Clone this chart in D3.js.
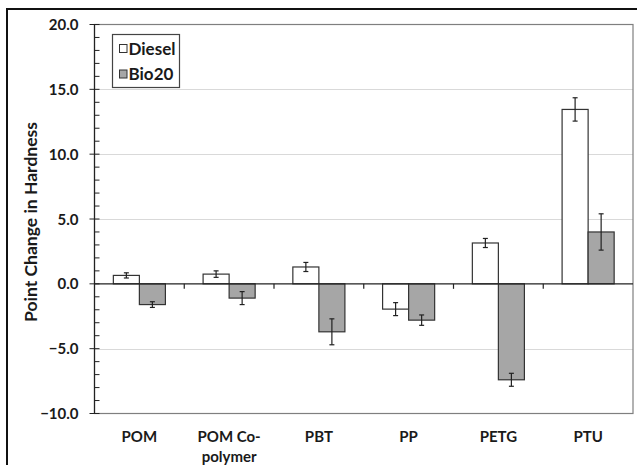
<!DOCTYPE html>
<meta charset="utf-8">
<style>
body { margin:0; background:#fff; }
text { font-family: Lato, "DejaVu Sans", sans-serif; font-weight:bold; fill:#1a1a1a; }
.tick-label { font-size:15px; }
.cat-label { font-size:15px; }
.grid line { stroke:#d9d9d9; stroke-width:1px; }
</style>
<body>
<script src="https://d3js.org/d3.v7.min.js"></script>
<script>

var categories = ["POM", "POM Co-polymer", "PBT", "PP", "PETG", "PTU"];
var catLines = [["POM"], ["POM Co-", "polymer"], ["PBT"], ["PP"], ["PETG"], ["PTU"]];
var series = ["Diesel", "Bio20"];
var diesel = [0.65, 0.75, 1.3, -1.95, 3.15, 13.45];
var dieselErr = [0.2, 0.25, 0.35, 0.5, 0.35, 0.9];
var bio20 = [-1.6, -1.1, -3.7, -2.8, -7.4, 4.0];
var bio20Err = [0.22, 0.5, 1.0, 0.4, 0.5, 1.4];
var yTicks = [-10, -5, 0, 5, 10, 15, 20];
var fills = {Diesel:"#ffffff", Bio20:"#a6a6a6"};

var W = 637, H = 465;
var plotL = 94.5, plotR = 633, plotT = 24.5, plotB = 413.5;

var svg = d3.select("body").append("svg").attr("width", W).attr("height", H);

// outer figure frame
svg.append("rect").attr("x", 7).attr("y", 9).attr("width", 640).attr("height", 470)
  .attr("fill", "none").attr("stroke", "#111").attr("stroke-width", 2);

var y = d3.scaleLinear().domain([-10, 20]).range([plotB, plotT]);
var x0 = d3.scaleBand().domain(categories).range([plotL, plotR]).paddingInner(0.42).paddingOuter(0.21);
var x1 = d3.scaleBand().domain(series).range([0, x0.bandwidth()]);

// gridlines
svg.append("g").attr("class", "grid")
  .selectAll("line").data(yTicks.filter(d => d != 0 && d != -10 && d != 20)).join("line")
  .attr("x1", plotL).attr("x2", plotR)
  .attr("y1", d => Math.round(y(d)) + 0.5).attr("y2", d => Math.round(y(d)) + 0.5);

// plot area border
svg.append("rect").attr("x", plotL).attr("y", plotT).attr("width", plotR - plotL).attr("height", plotB - plotT)
  .attr("fill", "none").attr("stroke", "#7f7f7f").attr("stroke-width", 1.2);

var rows = [];
categories.forEach(function(c, i){
  rows.push({cat:c, s:"Diesel", v:diesel[i], e:dieselErr[i]});
  rows.push({cat:c, s:"Bio20", v:bio20[i], e:bio20Err[i]});
});

svg.append("g").selectAll("rect").data(rows).join("rect")
  .attr("x", d => x0(d.cat) + x1(d.s))
  .attr("width", x1.bandwidth())
  .attr("y", d => y(Math.max(0, d.v)))
  .attr("height", d => Math.abs(y(d.v) - y(0)))
  .attr("fill", d => fills[d.s])
  .attr("stroke", "#333").attr("stroke-width", 1.2);

// error bars
var eb = svg.append("g").attr("stroke", "#222").attr("stroke-width", 1.2);
rows.forEach(function(d){
  var cx = x0(d.cat) + x1(d.s) + x1.bandwidth() / 2;
  eb.append("line").attr("x1", cx).attr("x2", cx).attr("y1", y(d.v - d.e)).attr("y2", y(d.v + d.e));
  [d.v - d.e, d.v + d.e].forEach(function(v){
    eb.append("line").attr("x1", cx - 2.5).attr("x2", cx + 2.5).attr("y1", y(v)).attr("y2", y(v));
  });
});

// zero axis with category ticks
svg.append("line").attr("x1", plotL).attr("x2", plotR).attr("y1", y(0)).attr("y2", y(0))
  .attr("stroke", "#222").attr("stroke-width", 1.2);
var step = x0.step();
d3.range(1, categories.length).forEach(function(i){
  var tx = plotL + i * step;
  svg.append("line").attr("x1", tx).attr("x2", tx).attr("y1", y(0)).attr("y2", y(0) + 5)
    .attr("stroke", "#222").attr("stroke-width", 1.2);
});

// y axis
var yAxis = svg.append("g");
yAxis.append("line").attr("x1", plotL).attr("x2", plotL).attr("y1", plotT).attr("y2", plotB)
  .attr("stroke", "#222").attr("stroke-width", 1.2);
d3.range(-10, 21, 1).forEach(function(v){
  var major = v % 5 == 0;
  yAxis.append("line").attr("x1", major ? plotL - 5 : plotL).attr("x2", plotL + 5)
    .attr("y1", y(v)).attr("y2", y(v)).attr("stroke", "#222").attr("stroke-width", 1);
});
yAxis.selectAll("text").data(yTicks).join("text").attr("class", "tick-label")
  .attr("x", plotL - 16).attr("y", d => y(d) + 5.5).attr("text-anchor", "end")
  .text(d => d3.format(".1f")(d));

svg.append("text").attr("transform", "translate(37," + ((plotT + plotB) / 2 + 3) + ") rotate(-90)")
  .attr("text-anchor", "middle").style("font-size", "17.5px").text("Point Change in Hardness");

// category labels
categories.forEach(function(c, i){
  var t = svg.append("text").attr("class", "cat-label").attr("text-anchor", "middle")
    .attr("x", x0(c) + x0.bandwidth() / 2).attr("y", 442);
  catLines[i].forEach(function(l, j){
    t.append("tspan").attr("x", x0(c) + x0.bandwidth() / 2).attr("dy", j == 0 ? 0 : 20).text(l);
  });
});

// legend
var lg = svg.append("g");
lg.append("rect").attr("x", 112.5).attr("y", 34.5).attr("width", 67).attr("height", 53)
  .attr("fill", "#fff").attr("stroke", "#444").attr("stroke-width", 1.2);
series.forEach(function(s, i){
  lg.append("rect").attr("x", 119.5).attr("y", 44.5 + i * 25.5).attr("width", 7.5).attr("height", 8)
    .attr("fill", fills[s]).attr("stroke", "#333").attr("stroke-width", 1);
  lg.append("text").attr("x", 128.5).attr("y", 54.5 + i * 25.5).style("font-size", "17px").text(s);
});

</script>
</body>
